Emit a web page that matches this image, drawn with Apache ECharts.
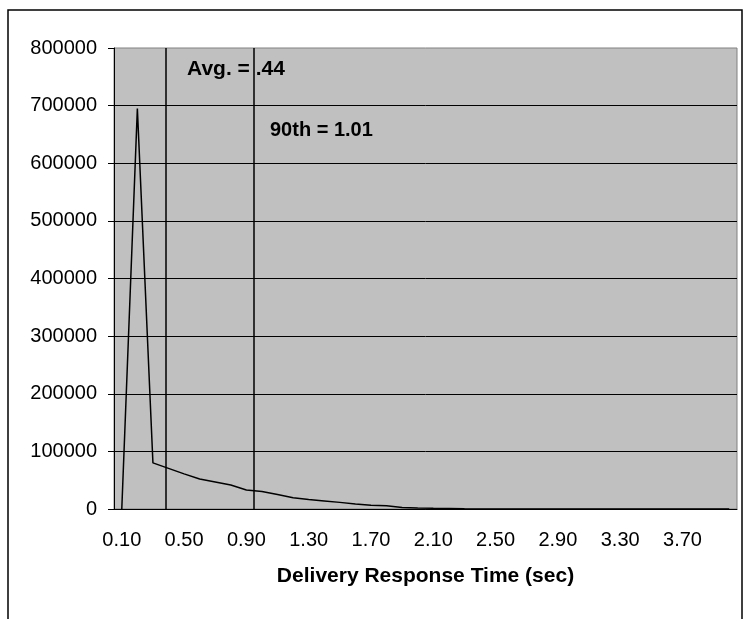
<!DOCTYPE html>
<html>
<head>
<meta charset="utf-8">
<script src="https://cdn.jsdelivr.net/npm/echarts@6/dist/echarts.min.js"></script>
<style>
  html, body { margin: 0; padding: 0; background: #fff; }
  #chart { width: 743px; height: 619px; }
</style>
</head>
<body>
<div id="chart"></div>
<script>
// response time buckets (sec)
const buckets = [
  0.1, 0.2, 0.3, 0.4, 0.5, 0.6, 0.7, 0.8, 0.9, 1.0,
  1.1, 1.2, 1.3, 1.4, 1.5, 1.6, 1.7, 1.8, 1.9, 2.0,
  2.1, 2.2, 2.3, 2.4, 2.5, 2.6, 2.7, 2.8, 2.9, 3.0,
  3.1, 3.2, 3.3, 3.4, 3.5, 3.6, 3.7, 3.8, 3.9, 4.0
];
// count of deliveries per bucket
const counts = [
  0, 695000, 80000, 70500, 61000, 52000, 47000, 41500, 33000, 30500,
  25000, 19500, 16500, 14000, 11500, 8500, 6500, 5500, 2500, 1700,
  1200, 800, 400, 200, 100, 0, 0, 0, 0, 0,
  0, 0, 0, 0, 0, 0, 0, 0, 0, 0
];
// where the marker lines sit on the time axis
const avgPos = 0.38;
const p90Pos = 0.95;
const avgText = "Avg. = .44";
const p90Text = "90th = 1.01";

const font = "'Liberation Sans', Arial, sans-serif";
const labels = buckets.map((b) => b.toFixed(2));

const chart = echarts.init(document.getElementById("chart"));
const option = {
  animation: false,
  backgroundColor: "#fff",
  grid: {
    left: 114,
    right: 6,
    top: 48,
    bottom: 110,
    show: true,
    backgroundColor: "#c0c0c0",
    borderColor: "#808080",
    borderWidth: 1,
  },
  xAxis: [
    {
      type: "category",
      data: labels,
      boundaryGap: true,
      name: "Delivery Response Time (sec)",
      nameLocation: "middle",
      nameGap: 57,
      nameTextStyle: {
        fontFamily: font,
        fontSize: 21,
        fontWeight: "bold",
        color: "#000",
      },
      axisLine: { lineStyle: { color: "#000", width: 1 } },
      axisTick: {
        inside: false,
        length: 6,
        interval: 1,
        lineStyle: { color: "#000" },
      },
      axisLabel: {
        interval: 3,
        margin: 21,
        fontFamily: font,
        fontSize: 20,
        color: "#000",
      },
      splitLine: { show: false },
    },
    {
      // inside ticks at the in-between boundaries
      type: "category",
      data: labels,
      position: "bottom",
      boundaryGap: true,
      axisLine: { show: false },
      axisLabel: { show: false },
      axisTick: {
        inside: true,
        length: 5,
        interval: function (idx) {
          return idx % 2 === 1;
        },
        lineStyle: { color: "#000" },
      },
      splitLine: { show: false },
    },
    {
      type: "value",
      min: 0.05,
      max: 4.05,
      show: false,
    },
  ],
  yAxis: {
    type: "value",
    min: 0,
    max: 800000,
    interval: 100000,
    axisLine: { show: true, lineStyle: { color: "#000", width: 1 } },
    axisTick: { show: true, length: 6, lineStyle: { color: "#000" } },
    axisLabel: {
      margin: 17,
      fontFamily: font,
      fontSize: 20,
      color: "#000",
      formatter: (v) => String(v),
    },
    splitLine: {
      show: true,
      showMaxLine: false,
      lineStyle: { color: "#000", width: 1 },
    },
  },
  series: [
    {
      type: "line",
      xAxisIndex: 0,
      data: counts,
      symbol: "none",
      lineStyle: { color: "#000", width: 1.5 },
      z: 5,
    },
    {
      type: "line",
      xAxisIndex: 2,
      data: [[avgPos, 0]],
      symbol: "none",
      silent: true,
      markLine: {
        silent: true,
        symbol: "none",
        label: { show: false },
        lineStyle: { color: "#000", width: 1.5, type: "solid" },
        data: [{ xAxis: avgPos }, { xAxis: p90Pos }],
      },
    },
  ],
  graphic: [
    {
      type: "rect",
      shape: { x: 8, y: 10, width: 734, height: 640 },
      style: { fill: "none", stroke: "#000", lineWidth: 1.5 },
      silent: true,
      z: -10,
    },
    {
      type: "text",
      left: 187,
      top: 59,
      style: {
        text: avgText,
        fontFamily: font,
        fontSize: 21,
        fontWeight: "bold",
        fill: "#000",
      },
      z: 10,
    },
    {
      type: "text",
      left: 270,
      top: 120,
      style: {
        text: p90Text,
        fontFamily: font,
        fontSize: 20,
        fontWeight: "bold",
        fill: "#000",
      },
      z: 10,
    },
  ],
};
chart.setOption(option);
</script>
</body>
</html>
